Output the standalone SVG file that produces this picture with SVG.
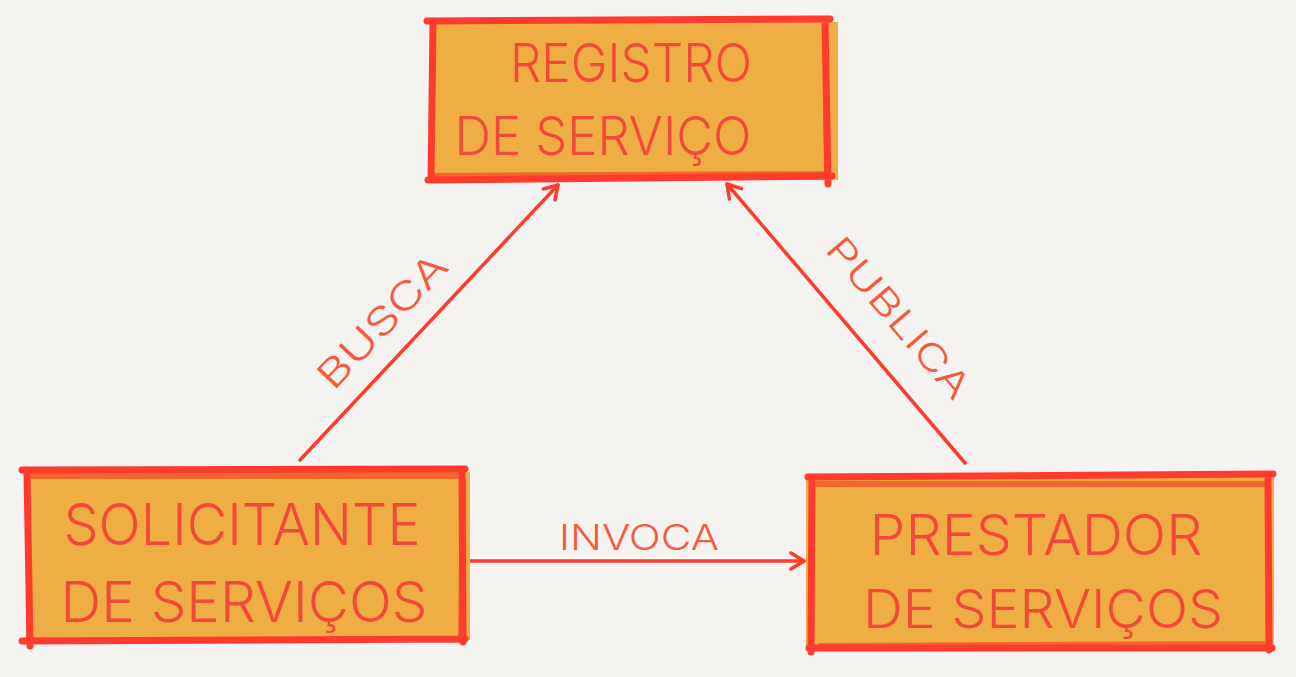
<svg xmlns="http://www.w3.org/2000/svg" width="1296" height="677" viewBox="0 0 1296 677">
  <defs>
    <style>
      .bg { fill: #F4F3F0; }
      .fill { fill: #EFAD45; }
      .band { fill: none; stroke: #F0612C; stroke-width: 6; stroke-linecap: round; opacity: 0.9; }
      .edge { fill: none; stroke: #FF3B2F; stroke-width: 7; stroke-linecap: round; }
      .lbl { font-family: Inter, Lato, "Liberation Sans", sans-serif; font-weight: 300; fill: #F24A3A; }
      .elbl { font-family: Inter, Lato, "Liberation Sans", sans-serif; font-weight: 300; fill: #F55A3C; }
      .conn { fill: none; stroke: #FF3B30; stroke-width: 3.5; stroke-linecap: round; }
    </style>
    <marker id="arrow" viewBox="0 0 20 20" refX="18" refY="10" markerWidth="20" markerHeight="20" markerUnits="userSpaceOnUse" orient="auto">
      <path d="M5,2 L18,10 L5,18" fill="none" stroke="#FF3B30" stroke-width="3.5" stroke-linecap="round" stroke-linejoin="round"/>
    </marker>
  </defs>
  <rect class="bg" x="0" y="0" width="1296" height="677"/>

  <g id="connectors">
    <line class="conn" x1="300" y1="460" x2="558" y2="185" marker-end="url(#arrow)"/>
    <line class="conn" x1="965" y1="463" x2="727" y2="184" marker-end="url(#arrow)"/>
    <line class="conn" x1="470" y1="561" x2="804" y2="561" marker-end="url(#arrow)"/>
    <text class="elbl" font-size="38" text-anchor="middle" transform="translate(392,330) rotate(-46.5)" textLength="170" lengthAdjust="spacingAndGlyphs">BUSCA</text>
    <text class="elbl" font-size="36" text-anchor="middle" transform="translate(889,326) rotate(49.5)" textLength="200" lengthAdjust="spacingAndGlyphs">PUBLICA</text>
    <text class="elbl" font-size="36" x="639" y="550" text-anchor="middle" textLength="160" lengthAdjust="spacingAndGlyphs">INVOCA</text>
  </g>

  <g id="registro">
    <rect class="fill" x="430" y="22" width="408" height="158"/>
    <path class="band" d="M434,176 L826,174 M826,62 L827,174"/>
    <path class="edge" d="M427,21 L830,19 M433,22 L431,180 M428,180 L832,176 M825,22 L828,184"/>
    <text class="lbl" font-size="54" x="631" y="82" text-anchor="middle" textLength="242" lengthAdjust="spacingAndGlyphs">REGISTRO</text>
    <text class="lbl" font-size="54" x="603" y="155" text-anchor="middle" textLength="297" lengthAdjust="spacingAndGlyphs">DE SERVIÇO</text>
  </g>

  <g id="solicitante">
    <rect class="fill" x="26" y="472" width="444" height="168"/>
    <path class="band" d="M32,476 L462,476 M463,480 L461,636"/>
    <path class="edge" d="M22,470 L465,469 M27,473 L30,646 M22,641 L465,639 M462,472 L463,642"/>
    <text class="lbl" font-size="58" x="242" y="545" text-anchor="middle" textLength="357" lengthAdjust="spacingAndGlyphs">SOLICITANTE</text>
    <text class="lbl" font-size="56" x="244" y="622" text-anchor="middle" textLength="367" lengthAdjust="spacingAndGlyphs">DE SERVIÇOS</text>
  </g>

  <g id="prestador">
    <rect class="fill" x="806" y="477" width="468" height="170"/>
    <path class="band" d="M818,484 L1268,484 M820,646 L1268,644"/>
    <path class="edge" d="M808,477 L1273,474 M812,479 L811,652 M809,648 L1272,648 M1268,478 L1269,650"/>
    <text class="lbl" font-size="56" x="1036" y="555" text-anchor="middle" textLength="333" lengthAdjust="spacingAndGlyphs">PRESTADOR</text>
    <text class="lbl" font-size="54" x="1043" y="628" text-anchor="middle" textLength="360" lengthAdjust="spacingAndGlyphs">DE SERVIÇOS</text>
  </g>
</svg>
